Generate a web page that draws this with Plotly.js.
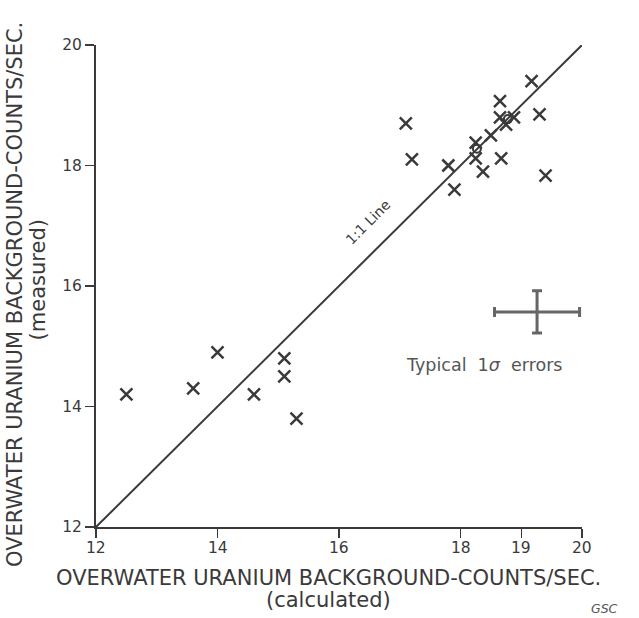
<!DOCTYPE html>
<html>
<head>
<meta charset="utf-8">
<script src="https://cdn.plot.ly/plotly-3.0.1.min.js"></script>
<style>html,body{margin:0;padding:0;background:#fff;}#chart{width:639px;height:618px;}</style>
</head>
<body>
<div id="chart"></div>
<script>
// Calculated vs measured overwater uranium background (counts/sec)
var calcX = [12.5, 13.6, 14.0, 14.6, 15.1, 15.1, 15.3, 17.1, 17.2, 17.8, 17.9, 18.25, 18.25, 18.37, 18.5, 18.65, 18.67, 18.65, 18.88, 18.75, 19.17, 19.3, 19.4];
var measY = [14.2, 14.3, 14.9, 14.2, 14.8, 14.5, 13.8, 18.7, 18.1, 18.0, 17.6, 18.38, 18.12, 17.9, 18.5, 19.07, 18.12, 18.8, 18.8, 18.68, 19.4, 18.85, 17.83];
var circX = [18.27, 18.78];
var circY = [18.28, 18.77];
var oneToOneX = [12, 20];
var oneToOneY = [12, 20];
var errX = [19.26];
var errY = [15.57];
var errXSize = [0.70];
var errYSize = [0.35];
var xTicks = [12, 14, 16, 18, 19, 20];
var xTickText = ['12', '14', '16', '18', '19', '20'];
var yTicks = [12, 14, 16, 18, 20];
var yTickText = ['12', '14', '16', '18', '20'];
var titleMain = 'OVERWATER URANIUM BACKGROUND-COUNTS/SEC.';

var ink = '#3a3a3a';
var traces = [
  {x: oneToOneX, y: oneToOneY, mode: 'lines', line: {color: ink, width: 2}, hoverinfo: 'skip'},
  {x: calcX, y: measY, mode: 'markers', marker: {symbol: 'x-thin-open', size: 12, color: ink, line: {color: ink, width: 2.5}}},
  {x: circX, y: circY, mode: 'markers', marker: {symbol: 'circle-open', size: 8, color: ink, line: {color: ink, width: 2}}},
  {x: errX, y: errY, mode: 'markers', marker: {size: 0.1, color: '#666'},
   error_x: {type: 'data', array: errXSize, visible: true, color: '#666', thickness: 3, width: 5},
   error_y: {type: 'data', array: errYSize, visible: true, color: '#666', thickness: 3, width: 5}}
];

var font = 'DejaVu Sans, Verdana, sans-serif';
var tfont = {size: 21, color: ink, family: font};
var tickFont = {size: 15.5, color: ink, family: font};

// x tick labels placed by the x axis scale (annotations in data x)
var xTickAnns = xTicks.map(function(v, i){
  return {x: v, y: -0.044, xref: 'x', yref: 'paper', xanchor: 'center', yanchor: 'middle',
          text: xTickText[i], showarrow: false, font: tickFont};
});

var layout = {
  width: 639, height: 618,
  margin: {l: 96, r: 57, t: 45, b: 91},
  paper_bgcolor: '#fff', plot_bgcolor: '#fff',
  showlegend: false,
  font: {family: font, color: ink},
  xaxis: {
    range: [12, 20], tickmode: 'array', tickvals: xTicks, ticktext: xTickText, showticklabels: false,
    showgrid: false, zeroline: false, showline: true, linecolor: ink, linewidth: 2,
    ticks: 'outside', ticklen: 9, tickwidth: 1.5, tickcolor: ink
  },
  yaxis: {
    range: [12, 20], tickmode: 'array', tickvals: yTicks, ticktext: yTickText,
    showgrid: false, zeroline: false, showline: true, linecolor: ink, linewidth: 2,
    ticks: 'outside', ticklen: 9, tickwidth: 1.5, tickcolor: ink,
    tickfont: tickFont
  },
  annotations: xTickAnns.concat([
    {x: 0.479, y: -0.106, xref: 'paper', yref: 'paper', xanchor: 'center', yanchor: 'middle', text: titleMain, showarrow: false, font: tfont},
    {x: 0.479, y: -0.152, xref: 'paper', yref: 'paper', xanchor: 'center', yanchor: 'middle', text: '(calculated)', showarrow: false, font: tfont},
    {x: -0.167, y: 0.483, xref: 'paper', yref: 'paper', xanchor: 'center', yanchor: 'middle', text: titleMain, showarrow: false, textangle: -90, font: tfont},
    {x: -0.119, y: 0.512, xref: 'paper', yref: 'paper', xanchor: 'center', yanchor: 'middle', text: '(measured)', showarrow: false, textangle: -90, font: tfont},
    {x: 16.48, y: 17.06, xref: 'x', yref: 'y', text: '1:1 Line', showarrow: false, textangle: -45,
     font: {size: 14, color: ink, family: font}},
    {x: 18.39, y: 14.69, xref: 'x', yref: 'y', text: 'Typical  1<i>σ</i>  errors', showarrow: false,
     font: {size: 17.5, color: '#555', family: font}},
    {x: 1.078, y: -0.170, xref: 'paper', yref: 'paper', xanchor: 'right', yanchor: 'middle', text: '<i>GSC</i>', showarrow: false,
     font: {size: 12.5, color: '#555', family: font}}
  ])
};
Plotly.newPlot('chart', traces, layout, {displayModeBar: false, staticPlot: true});
</script>
</body>
</html>
